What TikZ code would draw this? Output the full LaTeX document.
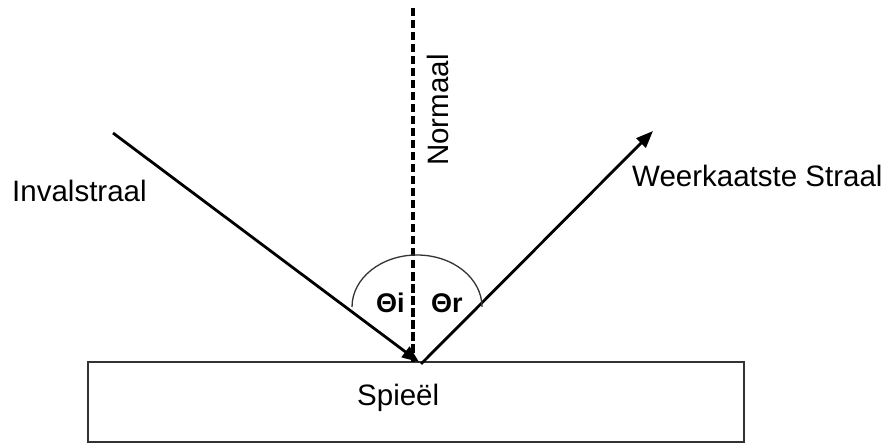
\documentclass[tikz,border=0pt]{standalone}
\usepackage{fontspec}
\setmainfont{Liberation Sans}
\usetikzlibrary{arrows.meta}
\begin{document}
\begin{tikzpicture}[x=1pt,y=-1pt,
  ray/.style={line width=2.8pt, -{Triangle[length=17pt,width=13pt]}},
  lbl/.style={font=\fontsize{29.5}{32}\selectfont, inner sep=0pt, anchor=base west},
  ang/.style={font=\fontsize{27}{29}\selectfont\bfseries, inner sep=0pt, anchor=base west},
  normalline/.style={line width=3.5pt, dash pattern=on 8.5pt off 3.5pt},
  mirrorbox/.style={draw=black!80, line width=1.8pt, minimum width=656pt, minimum height=80pt, inner sep=0pt}]
\useasboundingbox (0,0) rectangle (890,443);
% mirror
\node[mirrorbox] (mirror) at (416,402) {};
\node[lbl] (spiegel) at (357,405) {Spieël};
% points
\coordinate (P) at (419,362);
\coordinate (Pr) at (421,364);
\coordinate (A) at (113,133);
\coordinate (B) at (653,131);
\coordinate (Ntop) at (413,8);
\coordinate (Nbot) at (413,362);
% normal
\draw[normalline] (Ntop) -- (Nbot);
\node[font=\fontsize{29.5}{32}\selectfont, inner sep=0pt, anchor=base, rotate=90] (normaal) at (448,110) {Normaal};
% rays
\draw[ray] (A) -- (P);
\draw[ray] (Pr) -- (B);
% arc
\draw[line width=1.3pt, black!80] (352,307) arc[start angle=180, end angle=0, x radius=65, y radius=-52];
% labels
\node[lbl] (inval) at (12,202) {Invalstraal};
\node[lbl] (weer) at (632,187) {Weerkaatste Straal};
\node[ang] (ti) at (376,312) {Θi};
\node[ang] (tr) at (431,312) {Θr};
\end{tikzpicture}
\end{document}
